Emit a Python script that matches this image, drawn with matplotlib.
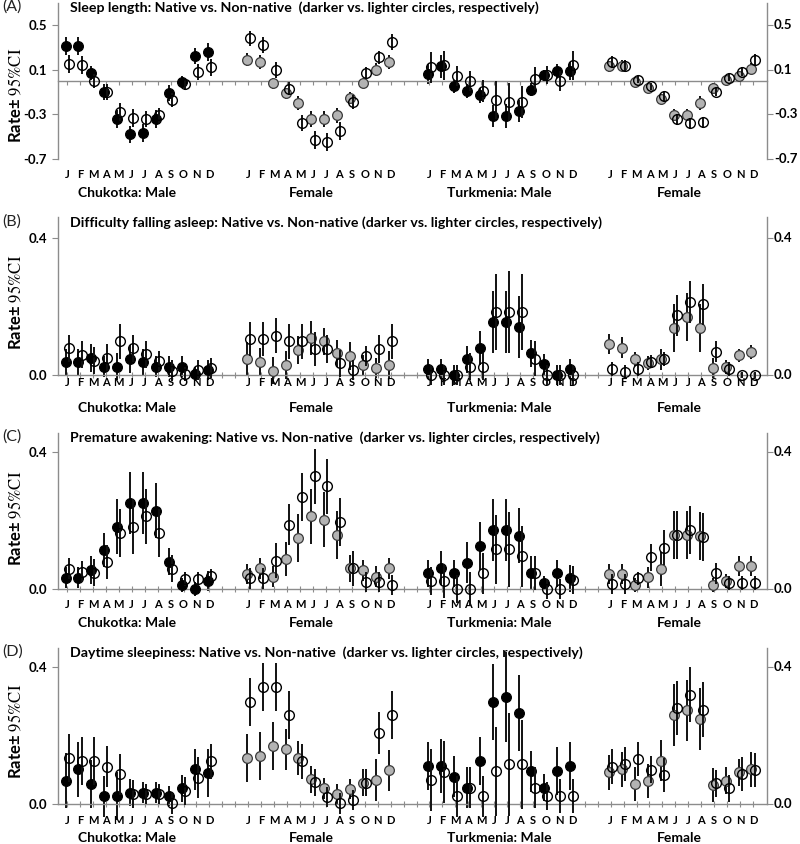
import matplotlib
matplotlib.use("Agg")
import matplotlib.pyplot as plt
import numpy as np

plt.rcParams['font.family'] = ['Lato', 'DejaVu Sans']
plt.rcParams['mathtext.fontset'] = 'stix'

months = ["J", "F", "M", "A", "M", "J", "J", "A", "S", "O", "N", "D"]
groups = ["Chukotka: Male", "Female", "Turkmenia: Male", "Female"]
titles = [
    "Sleep length: Native vs. Non-native  (darker vs. lighter circles, respectively)",
    "Difficulty falling asleep: Native vs. Non-native (darker vs. lighter circles, respectively)",
    "Premature awakening: Native vs. Non-native  (darker vs. lighter circles, respectively)",
    "Daytime sleepiness: Native vs. Non-native  (darker vs. lighter circles, respectively)",
]
letters = ["(A)", "(B)", "(C)", "(D)"]

# ---- Panel A: sleep length ----
A_native = [
    [0.31, 0.31, 0.07, -0.10, -0.34, -0.48, -0.47, -0.345, -0.11, -0.01, 0.22, 0.26],
    [0.19, 0.17, -0.02, -0.11, -0.20, -0.34, -0.34, -0.31, -0.15, -0.02, 0.10, 0.17],
    [0.06, 0.13, -0.05, -0.09, -0.13, -0.315, -0.315, -0.27, -0.08, 0.05, 0.09, 0.09],
    [0.13, 0.135, -0.01, -0.06, -0.16, -0.305, -0.305, -0.20, -0.06, 0.01, 0.04, 0.11],
]
A_nonnative = [
    [0.15, 0.14, 0.00, -0.10, -0.28, -0.33, -0.34, -0.31, -0.17, -0.03, 0.08, 0.12],
    [0.38, 0.32, 0.10, -0.07, -0.38, -0.53, -0.545, -0.45, -0.19, 0.07, 0.21, 0.35],
    [0.12, 0.14, 0.04, 0.00, -0.09, -0.17, -0.19, -0.19, 0.02, 0.05, 0.00, 0.14],
    [0.17, 0.135, 0.01, -0.05, -0.14, -0.345, -0.38, -0.37, -0.10, 0.03, 0.08, 0.19],
]
A_native_ci = [
    [0.08, 0.08, 0.06, 0.07, 0.08, 0.08, 0.08, 0.08, 0.07, 0.05, 0.07, 0.08],
    [0.06, 0.06, 0.05, 0.05, 0.06, 0.07, 0.07, 0.07, 0.05, 0.04, 0.06, 0.06],
    [0.09, 0.10, 0.06, 0.06, 0.07, 0.10, 0.11, 0.10, 0.06, 0.05, 0.06, 0.08],
    [0.05, 0.05, 0.03, 0.03, 0.04, 0.05, 0.05, 0.06, 0.04, 0.03, 0.04, 0.05],
]
A_nonnative_ci = [
    [0.08, 0.08, 0.06, 0.07, 0.08, 0.08, 0.07, 0.07, 0.06, 0.05, 0.07, 0.08],
    [0.07, 0.07, 0.07, 0.06, 0.07, 0.08, 0.08, 0.08, 0.06, 0.05, 0.06, 0.07],
    [0.14, 0.13, 0.09, 0.09, 0.10, 0.17, 0.17, 0.14, 0.10, 0.08, 0.09, 0.13],
    [0.05, 0.05, 0.03, 0.03, 0.04, 0.05, 0.05, 0.05, 0.04, 0.03, 0.04, 0.05],
]

# ---- Panel B: difficulty falling asleep ----
B_native = [
    [0.037, 0.037, 0.049, 0.024, 0.024, 0.047, 0.037, 0.024, 0.024, 0.024, 0.002, 0.015],
    [0.046, 0.039, 0.013, 0.029, 0.073, 0.107, 0.098, 0.063, 0.056, 0.029, 0.021, 0.029],
    [0.017, 0.017, 0.0, 0.046, 0.078, 0.154, 0.154, 0.140, 0.063, 0.031, 0.0, 0.017],
    [0.091, 0.080, 0.046, 0.034, 0.046, 0.136, 0.170, 0.136, 0.021, 0.023, 0.057, 0.068],
]
B_nonnative = [
    [0.078, 0.059, 0.042, 0.051, 0.098, 0.078, 0.060, 0.041, 0.013, 0.002, 0.015, 0.021],
    [0.105, 0.105, 0.115, 0.098, 0.098, 0.076, 0.076, 0.034, 0.015, 0.056, 0.076, 0.098],
    [0.0, 0.0, 0.0, 0.024, 0.024, 0.184, 0.184, 0.184, 0.048, 0.0, 0.0, 0.0],
    [0.017, 0.010, 0.017, 0.039, 0.046, 0.174, 0.213, 0.206, 0.068, 0.017, 0.0, 0.0],
]
B_native_ci = [
    [0.04, 0.04, 0.04, 0.03, 0.04, 0.04, 0.04, 0.03, 0.03, 0.03, 0.02, 0.03],
    [0.05, 0.04, 0.04, 0.04, 0.04, 0.05, 0.04, 0.04, 0.04, 0.03, 0.03, 0.04],
    [0.03, 0.03, 0.03, 0.04, 0.05, 0.09, 0.09, 0.09, 0.04, 0.03, 0.03, 0.03],
    [0.03, 0.03, 0.02, 0.02, 0.03, 0.07, 0.07, 0.07, 0.03, 0.02, 0.02, 0.02],
]
B_nonnative_ci = [
    [0.04, 0.04, 0.04, 0.04, 0.05, 0.04, 0.04, 0.03, 0.03, 0.02, 0.03, 0.03],
    [0.05, 0.05, 0.05, 0.05, 0.05, 0.05, 0.04, 0.04, 0.03, 0.03, 0.04, 0.05],
    [0.03, 0.03, 0.03, 0.04, 0.04, 0.11, 0.12, 0.11, 0.05, 0.03, 0.03, 0.03],
    [0.02, 0.02, 0.02, 0.02, 0.02, 0.06, 0.06, 0.06, 0.03, 0.02, 0.01, 0.01],
]

# ---- Panel C: premature awakening ----
C_native = [
    [0.033, 0.033, 0.056, 0.114, 0.182, 0.251, 0.251, 0.228, 0.080, 0.012, 0.0, 0.023],
    [0.044, 0.060, 0.036, 0.088, 0.148, 0.212, 0.202, 0.158, 0.060, 0.054, 0.036, 0.060],
    [0.046, 0.062, 0.046, 0.077, 0.126, 0.173, 0.173, 0.156, 0.046, 0.017, 0.046, 0.031],
    [0.044, 0.044, 0.012, 0.034, 0.058, 0.158, 0.158, 0.156, 0.012, 0.023, 0.067, 0.067],
]
C_nonnative = [
    [0.059, 0.051, 0.048, 0.078, 0.163, 0.182, 0.212, 0.163, 0.059, 0.029, 0.029, 0.039],
    [0.031, 0.031, 0.083, 0.187, 0.268, 0.329, 0.300, 0.195, 0.060, 0.021, 0.021, 0.012],
    [0.023, 0.023, 0.0, 0.0, 0.046, 0.116, 0.116, 0.095, 0.046, 0.0, 0.0, 0.026],
    [0.015, 0.015, 0.031, 0.092, 0.121, 0.158, 0.173, 0.153, 0.046, 0.017, 0.017, 0.017],
]
C_native_ci = [
    [0.03, 0.03, 0.04, 0.05, 0.08, 0.09, 0.09, 0.08, 0.04, 0.02, 0.02, 0.03],
    [0.03, 0.03, 0.03, 0.05, 0.07, 0.08, 0.08, 0.07, 0.04, 0.03, 0.03, 0.03],
    [0.04, 0.05, 0.04, 0.06, 0.07, 0.09, 0.09, 0.08, 0.05, 0.02, 0.04, 0.04],
    [0.03, 0.03, 0.02, 0.03, 0.05, 0.07, 0.07, 0.07, 0.02, 0.02, 0.03, 0.03],
]
C_nonnative_ci = [
    [0.03, 0.03, 0.04, 0.05, 0.07, 0.08, 0.08, 0.07, 0.04, 0.02, 0.02, 0.02],
    [0.03, 0.03, 0.05, 0.06, 0.07, 0.08, 0.08, 0.07, 0.05, 0.03, 0.03, 0.03],
    [0.04, 0.05, 0.04, 0.05, 0.06, 0.10, 0.11, 0.09, 0.05, 0.03, 0.03, 0.04],
    [0.03, 0.03, 0.02, 0.04, 0.05, 0.07, 0.07, 0.07, 0.03, 0.02, 0.02, 0.02],
]

# ---- Panel D: daytime sleepiness ----
D_native = [
    [0.068, 0.101, 0.058, 0.023, 0.023, 0.033, 0.033, 0.033, 0.023, 0.046, 0.101, 0.090],
    [0.134, 0.140, 0.168, 0.160, 0.134, 0.072, 0.046, 0.028, 0.044, 0.062, 0.070, 0.098],
    [0.111, 0.111, 0.080, 0.048, 0.126, 0.297, 0.312, 0.265, 0.095, 0.048, 0.095, 0.111],
    [0.092, 0.101, 0.059, 0.068, 0.126, 0.259, 0.273, 0.248, 0.056, 0.068, 0.092, 0.101],
]
D_nonnative = [
    [0.134, 0.124, 0.124, 0.109, 0.087, 0.029, 0.029, 0.029, 0.002, 0.038, 0.077, 0.124],
    [0.298, 0.340, 0.340, 0.259, 0.124, 0.063, 0.021, 0.002, 0.012, 0.062, 0.207, 0.259],
    [0.070, 0.093, 0.023, 0.048, 0.023, 0.095, 0.116, 0.116, 0.048, 0.023, 0.023, 0.023],
    [0.109, 0.117, 0.132, 0.100, 0.085, 0.280, 0.319, 0.275, 0.060, 0.046, 0.087, 0.100],
]
D_native_ci = [
    [0.08, 0.08, 0.07, 0.06, 0.07, 0.04, 0.03, 0.03, 0.03, 0.04, 0.06, 0.07],
    [0.07, 0.07, 0.07, 0.06, 0.05, 0.04, 0.03, 0.03, 0.03, 0.04, 0.06, 0.06],
    [0.07, 0.08, 0.06, 0.06, 0.07, 0.11, 0.13, 0.11, 0.06, 0.04, 0.07, 0.07],
    [0.05, 0.05, 0.05, 0.05, 0.06, 0.09, 0.09, 0.09, 0.05, 0.04, 0.04, 0.05],
]
D_nonnative_ci = [
    [0.07, 0.07, 0.07, 0.06, 0.06, 0.04, 0.03, 0.03, 0.03, 0.04, 0.06, 0.05],
    [0.07, 0.07, 0.07, 0.07, 0.05, 0.04, 0.03, 0.03, 0.03, 0.04, 0.06, 0.07],
    [0.09, 0.09, 0.06, 0.06, 0.06, 0.13, 0.15, 0.13, 0.06, 0.04, 0.05, 0.05],
    [0.05, 0.05, 0.05, 0.04, 0.05, 0.08, 0.08, 0.08, 0.04, 0.04, 0.05, 0.05],
]

panels = [
    (A_native, A_nonnative, A_native_ci, A_nonnative_ci),
    (B_native, B_nonnative, B_native_ci, B_nonnative_ci),
    (C_native, C_nonnative, C_native_ci, C_nonnative_ci),
    (D_native, D_nonnative, D_native_ci, D_nonnative_ci),
]

W, H = 800, 844
fig = plt.figure(figsize=(W / 100, H / 100), dpi=100)

# axes placement in pixels: (top, bottom) of each plotting area
boxes = [(2.7, 159), (217, 375), (433, 589), (648, 804)]
ylims = [(-0.7, 0.7), (0, 0.461), (0, 0.455), (0, 0.455)]
yticks = [[-0.7, -0.3, 0.1, 0.5], [0.0, 0.4], [0.0, 0.4], [0.0, 0.4]]
month_off = [16, 7, 16, 17]     # px below bottom of axes
group_off = [34, 33, 34, 34]
ylabel_y = [95, 302, 518, 731]
title_y = [8, 223, 438, 653]

left_px, right_px = 58, 767
xlim = (-0.7, 54.08)
axis_gray = "#8c8c8c"
female_gray = "#b3b3b3"
group_centers = [4.64, 18.9, 33.4, 47.3]

for p, (nat, non, nat_ci, non_ci) in enumerate(panels):
    top, bot = boxes[p]
    ax = fig.add_axes([left_px / W, 1 - bot / H, (right_px - left_px) / W, (bot - top) / H])
    ax.set_xlim(*xlim)
    ax.set_ylim(*ylims[p])
    ax.spines['top'].set_visible(False)
    for s in ['left', 'right', 'bottom']:
        ax.spines[s].set_color(axis_gray)
        ax.spines[s].set_linewidth(1.0)

    allpos = np.arange(0, 54)
    if p == 0:
        ax.spines['bottom'].set_position(('data', 0))
        ax.set_xticks(allpos)
        ax.tick_params(axis='x', direction='out', length=3, color=axis_gray, labelbottom=False)
    else:
        ax.set_xticks(allpos)
        ax.tick_params(axis='x', direction='inout', length=4, color=axis_gray, labelbottom=False)
    ax.set_yticks(yticks[p])
    ax.set_yticklabels([f"{v:.1f}" for v in yticks[p]])
    ax.tick_params(axis='y', direction='out', length=4, color=axis_gray, labelsize=9.5,
                   left=True, right=True, labelleft=True, labelright=False, pad=4)
    for lab in ax.get_yticklabels():
        lab.set_fontweight('bold')
    # right-hand tick labels
    for v in yticks[p]:
        ax.annotate(f"{v:.1f}", xy=(1, v), xycoords=('axes fraction', 'data'),
                    xytext=(5, 0), textcoords='offset points', ha='left', va='center',
                    fontsize=9.5, fontweight='bold')

    for g in range(4):
        pos = g * 14 + np.arange(12)
        face = 'black' if g in (0, 2) else female_gray
        edge = 'black' if g in (0, 2) else '#3a3a3a'
        # native (darker)
        ax.vlines(pos - 0.12, np.array(nat[g]) - np.array(nat_ci[g]),
                  np.array(nat[g]) + np.array(nat_ci[g]), color='#111111',
                  lw=1.4, zorder=2, clip_on=False)
        ax.plot(pos - 0.12, nat[g], 'o', ms=7.0, mfc=face, mec=edge, mew=0.9,
                zorder=3, clip_on=False)
        # non-native (lighter)
        ax.vlines(pos + 0.12, np.array(non[g]) - np.array(non_ci[g]),
                  np.array(non[g]) + np.array(non_ci[g]), color='#111111',
                  lw=1.4, zorder=4, clip_on=False)
        ax.plot(pos + 0.12, non[g], 'o', ms=7.0, mfc='none', mec='black', mew=1.0,
                zorder=5, clip_on=False)
        for m, lab in enumerate(months):
            ax.annotate(lab, xy=(pos[m], 0), xycoords=('data', 'axes fraction'),
                        xytext=(0, -month_off[p] * 0.72), textcoords='offset points',
                        ha='center', va='center', fontsize=8, fontweight='bold')
        ax.annotate(groups[g], xy=(group_centers[g], 0), xycoords=('data', 'axes fraction'),
                    xytext=(0, -group_off[p] * 0.72), textcoords='offset points',
                    ha='center', va='center', fontsize=10, fontweight='bold')

    fig.text(70 / W, 1 - title_y[p] / H, titles[p], ha='left', va='center',
             fontsize=10.2, fontweight='bold')
    fig.text(2 / W, 1 - (title_y[p] - 1) / H, letters[p], ha='left', va='center',
             fontsize=11.5, color='#222222')
    fig.text(15 / W, 1 - ylabel_y[p] / H, r"Rate± $\mathrm{95\%CI}$", rotation=90,
             ha='center', va='center', fontsize=12, fontweight='bold')

fig.savefig("out.png", dpi=100)
